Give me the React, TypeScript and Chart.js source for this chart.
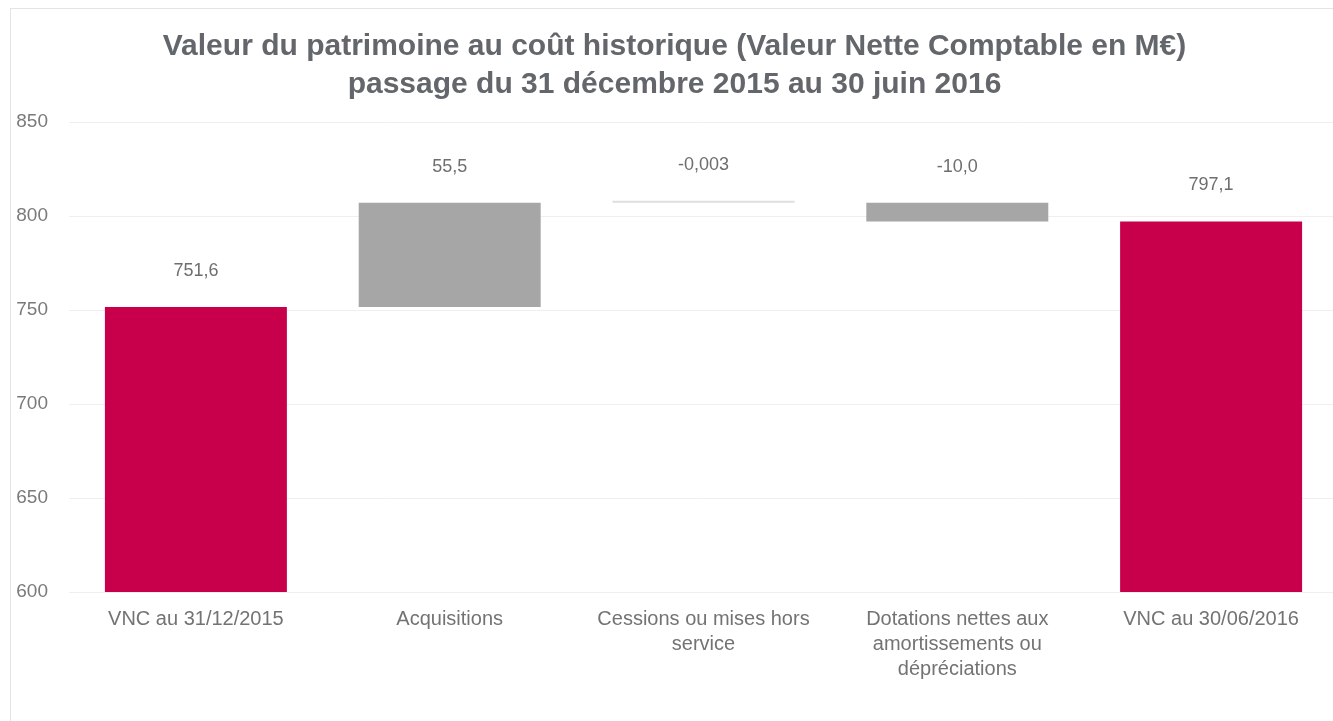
import React, { useEffect, useRef } from "react";
import { Chart, registerables } from "chart.js";

Chart.register(...registerables);

const categories: string[][] = [
  ["VNC au 31/12/2015"],
  ["Acquisitions"],
  ["Cessions ou mises hors", "service"],
  ["Dotations nettes aux", "amortissements ou", "dépréciations"],
  ["VNC au 30/06/2016"],
];
const barStarts = [0, 751.6, 807.1, 807.1, 0];
const barEnds = [751.6, 807.1, 807.097, 797.1, 797.1];
const valueLabels = ["751,6", "55,5", "-0,003", "-10,0", "797,1"];
const barColors = ["#c8004b", "#a6a6a6", "#dedede", "#a6a6a6", "#c8004b"];
const yTicks = [600, 650, 700, 750, 800, 850];
const titleLines = [
  "Valeur du patrimoine au coût historique (Valeur Nette Comptable en M€)",
  "passage du 31 décembre 2015 au 30 juin 2016",
];

const FONT = "'Liberation Sans', Arial, sans-serif";

const valueLabelPlugin = {
  id: "valueLabels",
  afterDatasetsDraw(chart: any) {
    const ctx = chart.ctx;
    const meta = chart.getDatasetMeta(0);
    ctx.save();
    ctx.font = `18px ${FONT}`;
    ctx.fillStyle = "#6e6e6e";
    ctx.textAlign = "center";
    ctx.textBaseline = "middle";
    meta.data.forEach((bar: any, i: number) => {
      const top = Math.min(bar.y, bar.base);
      ctx.fillText(valueLabels[i], bar.x, top - 36);
    });
    ctx.restore();
  },
};

export default function App() {
  const ref = useRef<HTMLCanvasElement | null>(null);
  useEffect(() => {
    if (!ref.current) return;
    const chart = new Chart(ref.current, {
      type: "bar",
      data: {
        labels: categories,
        datasets: [
          {
            data: barStarts.map((s, i) => [s, barEnds[i]]) as any,
            backgroundColor: barColors,
            borderWidth: 0,
            categoryPercentage: 1,
            barPercentage: 0.717,
            minBarLength: 2,
          },
        ],
      },
      options: {
        animation: false,
        responsive: false,
        maintainAspectRatio: false,
        layout: { padding: { left: 0, right: 7, bottom: 41, top: 0 } },
        plugins: {
          legend: { display: false },
          tooltip: { enabled: false },
          title: {
            display: true,
            text: titleLines,
            color: "#63666a",
            font: { family: FONT, size: 30, weight: "bold", lineHeight: 1.267 },
            padding: { top: 19, bottom: 18 },
          },
        },
        scales: {
          x: {
            grid: { display: false, drawTicks: false },
            border: { display: false },
            ticks: {
              color: "#737373",
              font: { family: FONT, size: 20, lineHeight: 1.25 },
              padding: 15,
              maxRotation: 0,
              autoSkip: false,
            },
            afterFit: (axis: any) => {
              axis.height = 88;
            },
          },
          y: {
            min: 600,
            max: 850,
            afterBuildTicks: (axis: any) => {
              axis.ticks = yTicks.map((v) => ({ value: v }));
            },
            grid: { color: "#efefef", drawTicks: false },
            border: { display: false },
            ticks: {
              color: "#7a7a7a",
              font: { family: FONT, size: 19 },
              padding: 21,
            },
            afterFit: (axis: any) => {
              axis.width = 58;
            },
          },
        },
      },
      plugins: [valueLabelPlugin],
    });
    return () => chart.destroy();
  }, []);
  return (
    <div
      style={{
        position: "fixed",
        left: 10,
        top: 8,
        width: 1335,
        height: 713,
        borderLeft: "1px solid #e4e4e4",
        borderTop: "1px solid #e4e4e4",
        background: "#fff",
      }}
    >
      <canvas ref={ref} width={1334} height={712} />
    </div>
  );
}
